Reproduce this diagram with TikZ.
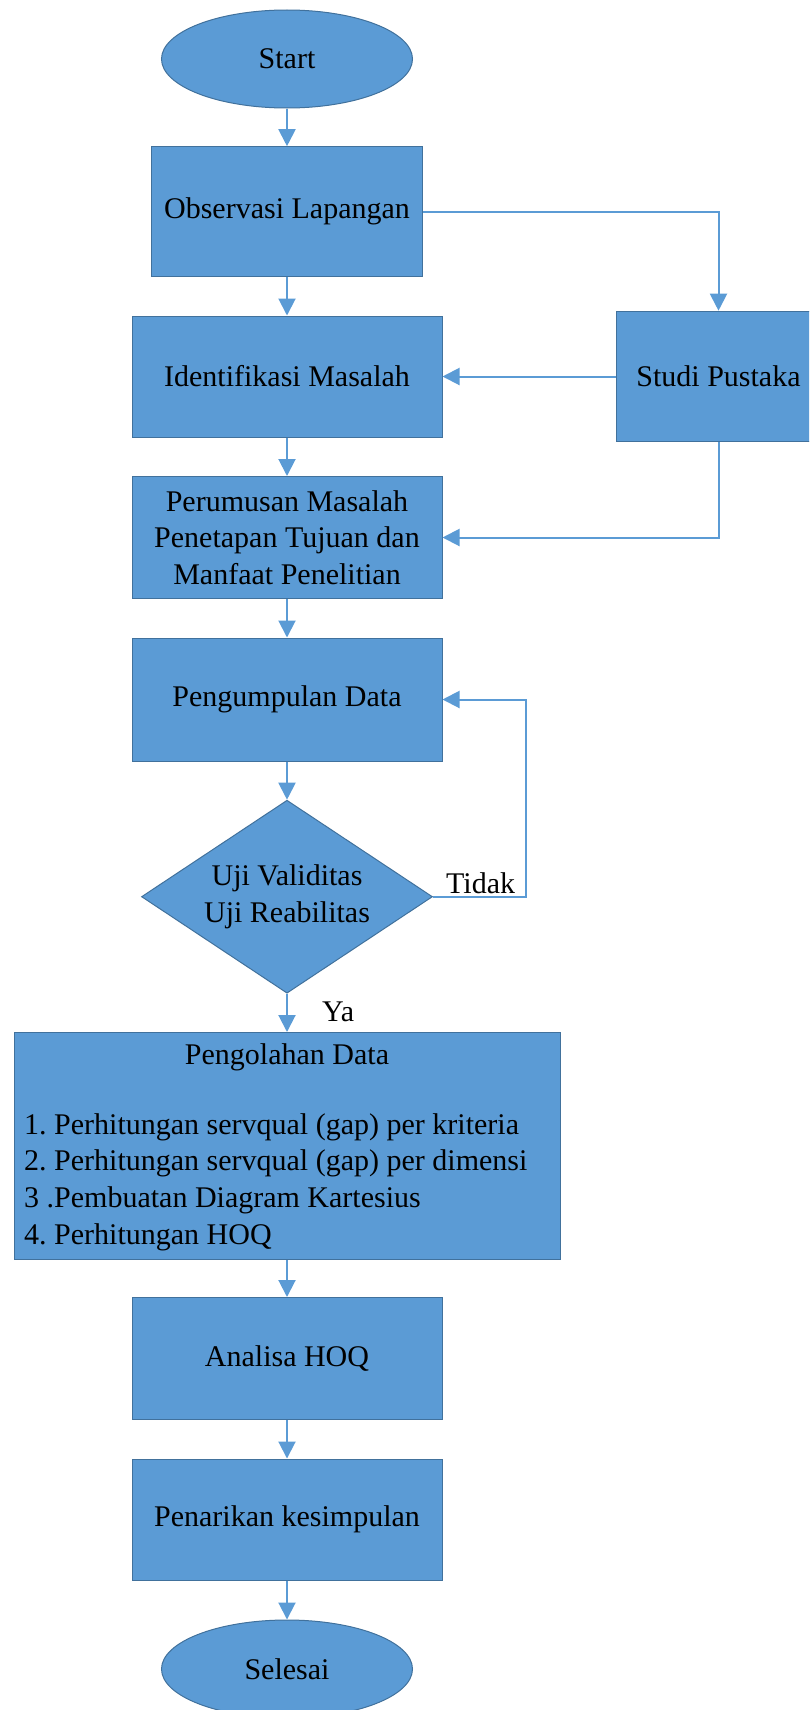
\documentclass[tikz,border=0pt]{standalone}
\usepackage{fontspec}
\setmainfont{Liberation Serif}
\frenchspacing
\usetikzlibrary{arrows.meta,shapes.geometric}
\definecolor{boxfill}{HTML}{5B9BD5}
\definecolor{boxline}{HTML}{41719C}
\definecolor{conn}{HTML}{5B9BD5}
\tikzset{
  txt/.style={font=\fontsize{30pt}{36.7pt}\selectfont\frenchspacing, text=black},
  shp/.style={txt, draw=boxline, fill=boxfill, line width=1pt, inner sep=0pt, align=center},
  procbox/.style={shp, rectangle},
  termbox/.style={shp, ellipse},
  decbox/.style={shp, diamond, shape aspect=1.5},
  conline/.style={draw=conn, line width=2pt, -{Triangle[length=17pt,width=17pt]}},
  lbl/.style={txt, inner sep=0pt}
}
\begin{document}
\begin{tikzpicture}[x=1pt,y=-1pt]
\useasboundingbox (0,0) rectangle (809,1710);
\clip (0,0) rectangle (809,1710);
\node[termbox, minimum width=251pt, minimum height=98pt] (start) at (287,59) {Start};
\node[procbox, minimum width=271pt, minimum height=130pt] (obs) at (287,211.7) {Observasi Lapangan};
\node[procbox, minimum width=310pt, minimum height=121pt] (ident) at (287,376.5) {Identifikasi Masalah};
\node[procbox, minimum width=205pt, minimum height=130.6pt] (studi) at (718.5,376.5) {Studi Pustaka};
\node[procbox, minimum width=310pt, minimum height=122pt] (perum) at (287,537.5) {Perumusan Masalah\\Penetapan Tujuan dan\\Manfaat Penelitian};
\node[procbox, minimum width=310pt, minimum height=123pt] (peng) at (287,699.5) {Pengumpulan Data};
\node[decbox, minimum width=291pt, minimum height=193pt] (uji) at (287,896.7) {Uji Validitas\\Uji Reabilitas};
\node[procbox, minimum width=546pt, minimum height=227pt] (olah) at (287,1146) {};
\node[lbl, anchor=base] (olahtitle) at (287,1064) {Pengolahan Data};
\node[lbl, anchor=west, align=left] (olahlist) at (24,1182) {1. Perhitungan servqual (gap) per kriteria\\2. Perhitungan servqual (gap) per dimensi\\3 .Pembuatan Diagram Kartesius\\4. Perhitungan HOQ};
\node[procbox, minimum width=310pt, minimum height=122pt] (anal) at (287,1358.5) {Analisa HOQ};
\node[procbox, minimum width=310pt, minimum height=121pt] (tarik) at (287,1519.5) {Penarikan kesimpulan};
\node[termbox, minimum width=251pt, minimum height=98pt] (selesai) at (287,1669) {Selesai};

\coordinate (tidakcorner) at (526,896.7);
\node[lbl, anchor=base west] (tidak) at (446,893) {Tidak};
\node[lbl, anchor=base west] (ya) at (322,1021) {Ya};

\draw[conline] (start) -- (obs);
\draw[conline] (obs) -- (ident);
\draw[conline] (ident) -- (perum);
\draw[conline] (perum) -- (peng);
\draw[conline] (peng) -- (uji);
\draw[conline] (uji) -- (olah);
\draw[conline] (olah) -- (anal);
\draw[conline] (anal) -- (tarik);
\draw[conline] (tarik) -- (selesai);
\draw[conline] (obs.east) -| (studi.north);
\draw[conline] (studi.west) -- (ident.east);
\draw[conline] (studi.south) |- (perum.east);
\draw[conline] (uji.east) -- (tidakcorner) |- (peng.east);
\end{tikzpicture}
\end{document}
